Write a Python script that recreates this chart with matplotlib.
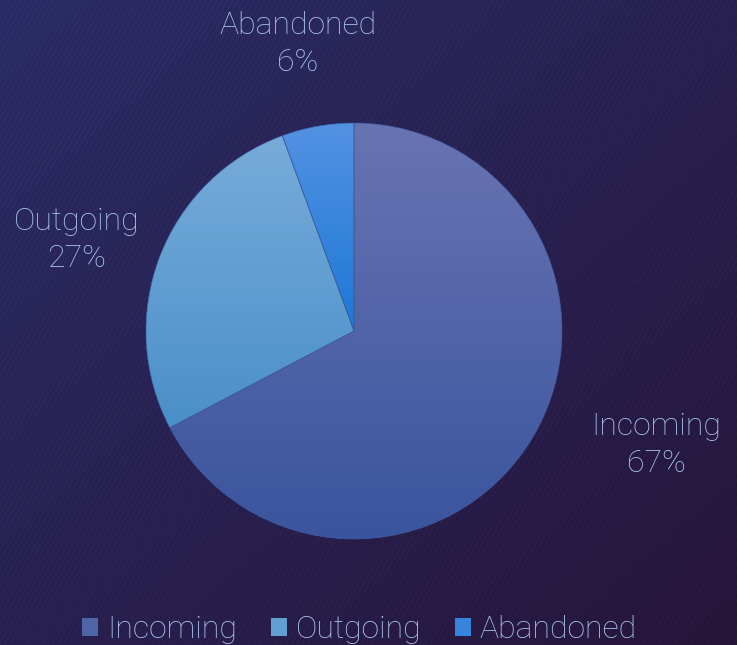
import numpy as np
import matplotlib
matplotlib.use("Agg")
import matplotlib.pyplot as plt
from matplotlib.patches import Patch, Wedge

plt.rcParams['font.family'] = ['Roboto', 'DejaVu Sans']

# Call breakdown (share of all calls, percent)
categories = ['Incoming', 'Outgoing', 'Abandoned']
shares = [67.3, 27.1, 5.6]

# Vertical gradient (top, bottom) for each slice
slice_top = ['#6874b2', '#78acd9', '#5292e2']
slice_bottom = ['#3a549e', '#4a8fca', '#1c78d6']
slice_mid = ['#5064a8', '#62a0d2', '#3684dc']

W, H = 737, 645
fig = plt.figure(figsize=(W / 100, H / 100), dpi=100)
ax = fig.add_axes([0, 0, 1, 1])

# Background: diagonal blue -> purple gradient with fine "/" stripes
yy, xx = np.mgrid[0:H, 0:W]
t = (xx / W + yy / H) / 2.0
c0 = np.array([44, 46, 106]) / 255.0
c1 = np.array([40, 22, 60]) / 255.0
bg = c0[None, None, :] * (1 - t[..., None]) + c1[None, None, :] * t[..., None]
phase = (0.866 * xx + 0.5 * yy) / 4.6
stripe = 1.0 - 0.08 * (np.sin(2 * np.pi * phase) > 0.3)
bg = bg * stripe[..., None]
ax.imshow(bg, extent=(0, W, 0, H), origin='upper', zorder=0, interpolation='nearest')

# Pie
cx, cy, r = 354, H - 331, 208
wedges, _ = ax.pie(shares, startangle=90, counterclock=False,
                   center=(cx, cy), radius=r, colors=slice_mid,
                   wedgeprops=dict(edgecolor='none'),
                   frame=True)

for w, ctop, cbot in zip(wedges, slice_top, slice_bottom):
    w.set_zorder(2)
    ext = w.get_path().get_extents()
    top = np.array(matplotlib.colors.to_rgb(ctop))
    bot = np.array(matplotlib.colors.to_rgb(cbot))
    s = np.linspace(0, 1, 256)[:, None]
    grad = (top * (1 - s) + bot * s)[:, None, :]
    im = ax.imshow(grad, extent=(ext.x0, ext.x1, ext.y0, ext.y1),
                   origin='upper', aspect='auto', zorder=3)
    im.set_clip_path(w)
    # faint slice border on top of the gradient
    ax.add_patch(Wedge((cx, cy), r, w.theta1, w.theta2, facecolor='none',
                       edgecolor='#3d5598', linewidth=0.5, alpha=0.8, zorder=4))

# Data labels
label_color = '#abc7f0'
fsize = 23
label_pos = [(656, 445), (77, 240), (298, 44)]
for name, val, (lx, ly) in zip(categories, shares, label_pos):
    ax.text(lx, H - ly, f"{name}\n{val:.0f}%", ha='center', va='center',
            fontsize=fsize, color=label_color, fontweight='light',
            linespacing=1.32, zorder=5)

ax.set_xlim(0, W)
ax.set_ylim(0, H)
ax.set_aspect('auto')
ax.axis('off')

# Legend along the bottom edge
handles = [Patch(facecolor=c, edgecolor='none') for c in slice_mid]
leg = fig.legend(handles, categories, loc='center', ncol=3,
                 bbox_to_anchor=(0.488, (H - 630) / H), frameon=False,
                 handlelength=0.5, handleheight=0.5,
                 handletextpad=0.28, columnspacing=1.05, borderpad=0,
                 prop=dict(weight='light', size=fsize))
for txt in leg.get_texts():
    txt.set_color(label_color)

fig.savefig('out.png', dpi=100)
